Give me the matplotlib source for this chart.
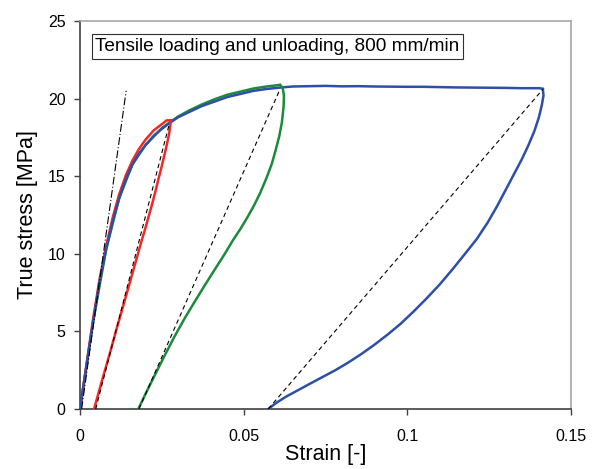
import matplotlib
matplotlib.use("Agg")
import matplotlib.pyplot as plt

plt.rcParams['font.family'] = ['Liberation Sans', 'DejaVu Sans']

# Red cycle (loaded to ~2.7 % strain)
red_load_x = [0, 0.002, 0.004, 0.006, 0.008, 0.010, 0.012, 0.014, 0.016, 0.018, 0.020,
              0.0225, 0.025, 0.0265, 0.0277]
red_load_y = [0, 2.9, 5.8, 8.4, 10.5, 12.35, 13.85, 15.05, 16.0, 16.75, 17.35,
              17.95, 18.35, 18.6, 18.6]
red_unload_x = [0.0277, 0.0276, 0.0272, 0.0265, 0.0256, 0.0248, 0.0239, 0.0229, 0.0219,
                0.0209, 0.0199, 0.0189, 0.0163, 0.0137, 0.0113, 0.009, 0.0066, 0.0043]
red_unload_y = [18.6, 18.3, 17.7, 17.0, 16.2, 15.5, 14.76, 13.9, 13.1,
                12.35, 11.6, 10.9, 8.95, 7.02, 5.25, 3.5, 1.75, 0]

# Green cycle (loaded to ~6.1 % strain)
green_load_x = [0, 0.004, 0.008, 0.012, 0.016, 0.020, 0.025, 0.030, 0.0335, 0.037, 0.041,
                0.045, 0.049, 0.053, 0.057, 0.0611]
green_load_y = [0, 5.6, 10.3, 13.6, 15.75, 17.0, 18.1, 18.85, 19.25, 19.6, 19.95,
                20.25, 20.45, 20.65, 20.78, 20.88]
green_unload_x = [0.0611, 0.0619, 0.0623, 0.0622, 0.0617, 0.0609, 0.0598, 0.0586, 0.057,
                  0.055, 0.053, 0.051, 0.049, 0.0468, 0.044, 0.041, 0.038, 0.035,
                  0.032, 0.029, 0.026, 0.023, 0.0205, 0.0178]
green_unload_y = [20.88, 20.7, 20.2, 19.5, 18.5, 17.6, 16.7, 15.8, 14.9,
                  13.9, 13.05, 12.3, 11.6, 10.9, 9.92, 8.93, 7.93, 6.9,
                  5.85, 4.72, 3.5, 2.25, 1.18, 0]

# Blue cycle (loaded to ~14.1 % strain)
blue_load_x = [0, 0.002, 0.004, 0.006, 0.008, 0.010, 0.012, 0.014, 0.016, 0.018, 0.020,
               0.0225, 0.025, 0.0275, 0.030, 0.0335, 0.037, 0.041, 0.045, 0.049, 0.053,
               0.057, 0.0616, 0.065, 0.070, 0.075, 0.080, 0.085, 0.090, 0.095, 0.100,
               0.105, 0.110, 0.115, 0.120, 0.125, 0.130, 0.135, 0.1405, 0.1414]
blue_load_y = [0, 2.8, 5.6, 8.2, 10.3, 12.1, 13.6, 14.8, 15.75, 16.45, 17.0,
               17.6, 18.05, 18.45, 18.8, 19.15, 19.5, 19.8, 20.1, 20.3, 20.5,
               20.62, 20.72, 20.78, 20.8, 20.82, 20.79, 20.8, 20.78, 20.77, 20.76,
               20.76, 20.74, 20.72, 20.71, 20.7, 20.69, 20.67, 20.67, 20.62]
blue_unload_x = [0.1414, 0.1416, 0.1411, 0.1402, 0.1388, 0.137, 0.135, 0.1325, 0.130,
                 0.1275, 0.1245, 0.1212, 0.118, 0.114, 0.110, 0.106, 0.102, 0.098,
                 0.094, 0.090, 0.086, 0.082, 0.078, 0.074, 0.070, 0.0665, 0.063,
                 0.060, 0.0575]
blue_unload_y = [20.62, 20.2, 19.6, 18.8, 17.9, 17.0, 16.1, 15.1, 14.1,
                 13.1, 12.0, 10.95, 10.1, 9.05, 8.05, 7.15, 6.3, 5.5,
                 4.8, 4.15, 3.55, 3.0, 2.5, 2.05, 1.6, 1.2, 0.8,
                 0.4, 0]

# Secant lines (dashed) and initial modulus (dash-dot)
secant_lines = [([0.0048, 0.0272], [0, 18.3]),
                ([0.018, 0.0611], [0, 20.6]),
                ([0.0575, 0.1414], [0, 20.6])]
initial_x = [0.0005, 0.0141]
initial_y = [0, 20.5]

blue = '#2E4FA6'
green = '#1B8A3A'
red = '#F02828'

fig = plt.figure(figsize=(5.98, 4.69), dpi=100)
ax = fig.add_axes([80 / 598, 1 - 409 / 469, 491 / 598, 388 / 469])

lw = 1.8
ax.plot(blue_load_x, blue_load_y, color=blue, lw=lw, zorder=3)
ax.plot(green_load_x, green_load_y, color=green, lw=lw, zorder=2)
ax.plot(red_load_x, red_load_y, color=red, lw=lw, zorder=2)
ax.plot(blue_unload_x, blue_unload_y, color=blue, lw=lw, zorder=3)
ax.plot(green_unload_x, green_unload_y, color=green, lw=lw, zorder=3)
ax.plot(red_unload_x, red_unload_y, color=red, lw=lw, zorder=3)

for xs, ys in secant_lines:
    ax.plot(xs, ys, color='black', lw=0.8, ls=(0, (4, 3)), zorder=4)
ax.plot(initial_x, initial_y, color='black', lw=0.8, ls=(0, (7, 2, 1, 2)), zorder=4)

ax.set_xlim(0, 0.15)
ax.set_ylim(0, 25)
ax.set_xticks([0, 0.05, 0.1, 0.15])
ax.set_xticklabels(['0', '0.05', '0.1', '0.15'])
ax.set_yticks([0, 5, 10, 15, 20, 25])
ax.tick_params(direction='out', length=4.5, width=1, color='#404040', labelsize=11.5)
ax.tick_params(axis='y', pad=6)
ax.tick_params(axis='x', pad=10)

for side in ['left', 'bottom']:
    ax.spines[side].set_color('#404040')
    ax.spines[side].set_linewidth(1.2)
for side in ['top', 'right']:
    ax.spines[side].set_color('#A8A8A8')
    ax.spines[side].set_linewidth(1.2)

ax.set_xlabel('Strain [-]', fontsize=15.5, labelpad=0)
ax.set_ylabel('True stress [MPa]', fontsize=15.5, labelpad=7)

ax.text(0.0047, 23.36, 'Tensile loading and unloading, 800 mm/min', fontsize=13.7,
        va='center', ha='left',
        bbox=dict(boxstyle='square,pad=0.2', fc='white', ec='#303030', lw=0.8))

fig.savefig('out.png', dpi=100)
